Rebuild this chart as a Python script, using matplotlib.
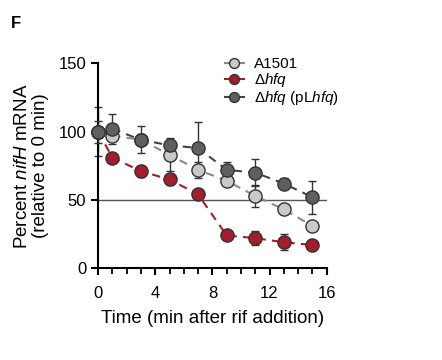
import numpy as np
import matplotlib.pyplot as plt

plt.rcParams['font.family'] = ['Liberation Sans', 'DejaVu Sans']
plt.rcParams['mathtext.fontset'] = 'custom'
plt.rcParams['mathtext.rm'] = 'Liberation Sans'
plt.rcParams['mathtext.it'] = 'Liberation Sans:italic'

# Data
time = [0, 1, 3, 5, 7, 9, 11, 13, 15]

wt = [100, 97, 94, 83, 72, 64, 53, 43, 31]
wt_err = [18, 4, 4, 12, 6, 2, 8, 3, 2]

hfq = [100, 81, 71, 65, 54, 24, 22, 19, 17]
hfq_err = [8, 2, 4, 4, 2, 2, 5, 6, 2]

comp = [100, 102, 94, 90, 88, 72, 70, 62, 52]
comp_err = [3, 11, 10, 3, 19, 6, 10, 4, 12]

labels = ['A1501', r'$\Delta\mathit{hfq}$', r'$\Delta\mathit{hfq}$ (pL$\mathit{hfq}$)']

fig = plt.figure(figsize=(4.42, 3.6), dpi=100)
ax = fig.add_axes([0.222, 0.255, 0.517, 0.569])

ax.axhline(50, color='#555555', lw=1.0, zorder=1)

series = [
    (wt, wt_err, '#c9c9c9', '#8a8a8a'),
    (hfq, hfq_err, '#a51c2c', '#a51c2c'),
    (comp, comp_err, '#5f5f5f', '#444444'),
]
order = [2, 1, 0]
handles = {}
for i in order:
    y, e, fc, lc = series[i]
    ax.errorbar(time, y, yerr=e, fmt='none', ecolor='#333333', elinewidth=1.0,
                capsize=3, capthick=1.0, zorder=2 + i, clip_on=False)
for i in order:
    y, e, fc, lc = series[i]
    h, = ax.plot(time, y, ls=(0, (4, 3)), color=lc, lw=1.5, marker='o', ms=9.5,
                 mfc=fc, mec='#333333', mew=1.0, zorder=5 + i, clip_on=False)
    handles[i] = h
handles = [handles[i] for i in range(3)]

ax.set_xlim(0, 16)
ax.set_ylim(0, 150)
ax.set_xticks([0, 4, 8, 12, 16])
ax.set_xticks(range(0, 17), minor=True)
ax.set_yticks([0, 50, 100, 150])
for s in ['top', 'right']:
    ax.spines[s].set_visible(False)
for s in ['left', 'bottom']:
    ax.spines[s].set_linewidth(1.5)
ax.tick_params(axis='both', which='major', labelsize=12, width=1.5, length=5, color='black')
ax.tick_params(axis='x', which='major', pad=8)
ax.tick_params(axis='x', which='minor', width=1.3, length=4)

ax.set_xlabel('Time (min after rif addition)', fontsize=13.5, labelpad=6)
ax.set_ylabel('Percent $\\mathit{nifH}$ mRNA\n(relative to 0 min)', fontsize=13.5,
              labelpad=7, linespacing=1.05)

fig.legend(handles, labels, loc='upper left', bbox_to_anchor=(0.475, 0.88),
           frameon=False, fontsize=11, handlelength=1.4, handletextpad=0.6,
           labelspacing=0.0, markerscale=0.75)

fig.text(0.025, 0.955, 'F', fontsize=12, fontweight='bold', va='top')

fig.savefig('out.png', dpi=100)
